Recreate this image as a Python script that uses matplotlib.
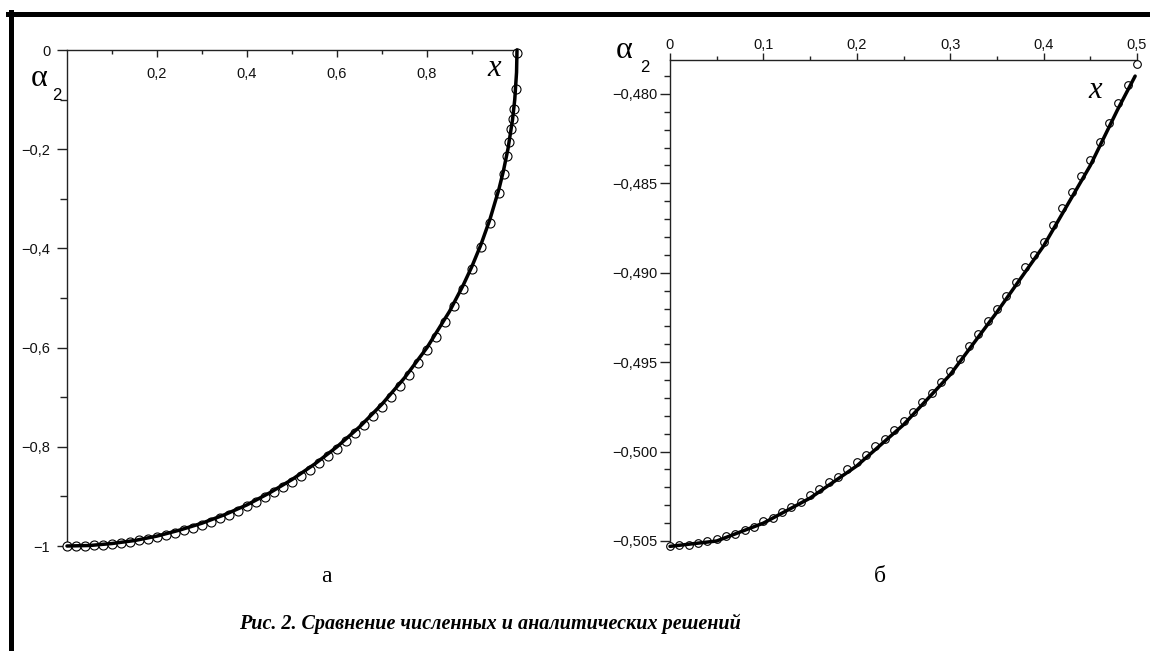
import matplotlib
matplotlib.use("Agg")
import matplotlib.pyplot as plt
from matplotlib.lines import Line2D
from matplotlib.ticker import FixedLocator, FixedFormatter, MultipleLocator

# панель "а": аналитическое решение (линия) и численное (кружки)
xa_line = [0.0, 0.05, 0.10, 0.15, 0.20, 0.25, 0.30, 0.35, 0.40, 0.45, 0.50, 0.55,
           0.60, 0.65, 0.70, 0.75, 0.80, 0.85, 0.88, 0.90, 0.92, 0.94, 0.96, 0.97,
           0.98, 0.99, 0.995, 0.999, 1.0]
ya_line = [-1.000, -0.999, -0.995, -0.989, -0.980, -0.968, -0.954, -0.937, -0.917,
           -0.893, -0.866, -0.835, -0.800, -0.760, -0.714, -0.661, -0.600, -0.527,
           -0.475, -0.436, -0.392, -0.341, -0.280, -0.243, -0.199, -0.141, -0.100,
           -0.045, 0.000]
xa_num = [0.00, 0.02, 0.04, 0.06, 0.08, 0.10, 0.12, 0.14, 0.16, 0.18, 0.20, 0.22,
          0.24, 0.26, 0.28, 0.30, 0.32, 0.34, 0.36, 0.38, 0.40, 0.42, 0.44, 0.46,
          0.48, 0.50, 0.52, 0.54, 0.56, 0.58, 0.60, 0.62, 0.64, 0.66, 0.68, 0.70,
          0.72, 0.74, 0.76, 0.78, 0.80, 0.82, 0.84, 0.86, 0.88, 0.90, 0.92, 0.94,
          0.96, 0.970, 0.977, 0.983, 0.987, 0.990, 0.993, 0.997, 0.999]
ya_num = [-1.000, -1.000, -0.999, -0.998, -0.997, -0.996, -0.994, -0.991, -0.988,
          -0.985, -0.982, -0.978, -0.973, -0.968, -0.963, -0.957, -0.951, -0.944,
          -0.937, -0.929, -0.920, -0.911, -0.902, -0.892, -0.881, -0.870, -0.858,
          -0.846, -0.833, -0.819, -0.804, -0.789, -0.773, -0.756, -0.738, -0.719,
          -0.699, -0.677, -0.655, -0.631, -0.605, -0.578, -0.548, -0.516, -0.481,
          -0.442, -0.398, -0.348, -0.288, -0.250, -0.214, -0.185, -0.160, -0.140,
          -0.118, -0.078, -0.006]
xa_ticks = [0.2, 0.4, 0.6, 0.8]
xa_labels = ["0,2", "0,4", "0,6", "0,8"]
ya_ticks = [0, -0.2, -0.4, -0.6, -0.8, -1.0]
ya_labels = ["0", "\u22120,2", "\u22120,4", "\u22120,6", "\u22120,8", "\u22121"]

# панель "б": увеличенный фрагмент
xb_line = [0.0, 0.05, 0.10, 0.15, 0.20, 0.25, 0.30, 0.35, 0.40, 0.45, 0.479, 0.498]
yb_line = [-0.5053, -0.5050, -0.5040, -0.5026, -0.5008, -0.4985, -0.4957, -0.4922,
           -0.4885, -0.4840, -0.4809, -0.4790]
xb_num = [0.00, 0.01, 0.02, 0.03, 0.04, 0.05, 0.06, 0.07, 0.08, 0.09, 0.10, 0.11,
          0.12, 0.13, 0.14, 0.15, 0.16, 0.17, 0.18, 0.19, 0.20, 0.21, 0.22, 0.23,
          0.24, 0.25, 0.26, 0.27, 0.28, 0.29, 0.30, 0.31, 0.32, 0.33, 0.34, 0.35,
          0.36, 0.37, 0.38, 0.39, 0.40, 0.41, 0.42, 0.43, 0.44, 0.45, 0.46, 0.47,
          0.48, 0.49, 0.50]
yb_num = [-0.5053, -0.5052, -0.5052, -0.5051, -0.5050, -0.5049, -0.5047, -0.5046,
          -0.5044, -0.5042, -0.5039, -0.5037, -0.5034, -0.5031, -0.5028, -0.5024,
          -0.5021, -0.5017, -0.5014, -0.5010, -0.5006, -0.5002, -0.4997, -0.4993,
          -0.4988, -0.4983, -0.4978, -0.4972, -0.4967, -0.4961, -0.4955, -0.4948,
          -0.4941, -0.4934, -0.4927, -0.4920, -0.4913, -0.4905, -0.4897, -0.4890,
          -0.4883, -0.4873, -0.4864, -0.4855, -0.4846, -0.4837, -0.4827, -0.4816,
          -0.4805, -0.4795, -0.4783]
xb_ticks = [0.0, 0.1, 0.2, 0.3, 0.4, 0.5]
xb_labels = ["0", "0,1", "0,2", "0,3", "0,4", "0,5"]
yb_ticks = [-0.480, -0.485, -0.490, -0.495, -0.500, -0.505]
yb_labels = ["\u22120,480", "\u22120,485", "\u22120,490", "\u22120,495",
             "\u22120,500", "\u22120,505"]

caption = "Рис. 2. Сравнение численных и аналитических решений"

W, H = 1150, 651
fig = plt.figure(figsize=(W / 100, H / 100), dpi=100)
fig.patch.set_facecolor("white")


def fx(x):
    return x / W


def fy(y):
    return 1 - y / H


def axes_px(x0, y0, x1, y1):
    return fig.add_axes([fx(x0), fy(y1), (x1 - x0) / W, (y1 - y0) / H])


tick_family = "Liberation Sans"
tick_size = 10.5
axcol = "#222222"


def style_labels(a):
    for lab in a.get_xticklabels() + a.get_yticklabels():
        lab.set_fontfamily(tick_family)
        lab.set_fontsize(tick_size)
        lab.set_color("#111111")


# ----- а -----
ax = axes_px(67, 50, 517, 546)
ax.set_xlim(0, 1)
ax.set_ylim(-1, 0)
ax.patch.set_alpha(0)
for s in ["top", "right"]:
    ax.spines[s].set_visible(False)
ax.spines["bottom"].set_position(("data", 0))
for s in ["left", "bottom"]:
    ax.spines[s].set_color(axcol)
    ax.spines[s].set_linewidth(1.0)
ax.xaxis.set_major_locator(FixedLocator(xa_ticks))
ax.xaxis.set_major_formatter(FixedFormatter(xa_labels))
ax.xaxis.set_minor_locator(FixedLocator([0.1, 0.3, 0.5, 0.7, 0.9]))
ax.yaxis.set_major_locator(FixedLocator(ya_ticks))
ax.yaxis.set_major_formatter(FixedFormatter(ya_labels))
ax.yaxis.set_minor_locator(FixedLocator([-0.1, -0.3, -0.5, -0.7, -0.9]))
ax.tick_params(axis="x", which="major", direction="out", length=5, width=1, pad=7, colors=axcol)
ax.tick_params(axis="x", which="minor", direction="out", length=3, width=1, colors=axcol)
ax.tick_params(axis="y", which="major", direction="out", length=7, width=1, pad=5, colors=axcol)
ax.tick_params(axis="y", which="minor", direction="out", length=5, width=1, colors=axcol)
style_labels(ax)
ax.plot(xa_num, ya_num, linestyle="none", marker="o", markersize=6.5,
        markerfacecolor="white", markeredgecolor="black", markeredgewidth=0.8,
        clip_on=False, zorder=3)
ax.plot(xa_line, ya_line, color="black", linewidth=2.5, solid_capstyle="round",
        clip_on=False, zorder=4)

# ----- б -----
bx = axes_px(670, 60, 1137, 546)
bx.set_xlim(0, 0.5)
bx.set_ylim(-0.50528, -0.47810)
bx.patch.set_alpha(0)
for s in ["bottom", "right"]:
    bx.spines[s].set_visible(False)
for s in ["left", "top"]:
    bx.spines[s].set_color(axcol)
    bx.spines[s].set_linewidth(1.0)
bx.xaxis.set_ticks_position("top")
bx.xaxis.set_major_locator(FixedLocator(xb_ticks))
bx.xaxis.set_major_formatter(FixedFormatter(xb_labels))
bx.xaxis.set_minor_locator(MultipleLocator(0.05))
bx.yaxis.set_major_locator(FixedLocator(yb_ticks))
bx.yaxis.set_major_formatter(FixedFormatter(yb_labels))
bx.yaxis.set_minor_locator(MultipleLocator(0.001))
bx.tick_params(axis="x", which="major", direction="out", length=5, width=1, pad=1, colors=axcol)
bx.tick_params(axis="x", which="minor", direction="out", length=3, width=1, colors=axcol)
bx.tick_params(axis="y", which="major", direction="out", length=7, width=1, pad=2, colors=axcol)
bx.tick_params(axis="y", which="minor", direction="out", length=4, width=1, colors=axcol)
style_labels(bx)
bx.plot(xb_num, yb_num, linestyle="none", marker="o", markersize=5.5,
        markerfacecolor="white", markeredgecolor="black", markeredgewidth=0.8,
        clip_on=False, zorder=3)
bx.plot(xb_line, yb_line, color="black", linewidth=2.5, solid_capstyle="round",
        clip_on=False, zorder=4)

# подписи осей
serif = "Liberation Serif"
fig.text(fx(39), fy(78), "α", family=serif, fontsize=23, ha="center", va="center")
fig.text(fx(57), fy(95), "2", family="Liberation Sans", fontsize=12, ha="center", va="center")
fig.text(fx(494), fy(68), "x", family=serif, style="italic", fontsize=22, ha="center", va="center")
fig.text(fx(624), fy(50), "α", family=serif, fontsize=23, ha="center", va="center")
fig.text(fx(645), fy(68), "2", family="Liberation Sans", fontsize=12, ha="center", va="center")
fig.text(fx(1095), fy(91), "x", family=serif, style="italic", fontsize=22, ha="center", va="center")

fig.text(fx(326), fy(577), "а", family=serif, fontsize=17, ha="center", va="center")
fig.text(fx(880), fy(577), "б", family=serif, fontsize=17, ha="center", va="center")
fig.text(fx(490), fy(624), caption, family=serif, style="italic", weight="bold",
         fontsize=14.5, ha="center", va="center")

# рамка (верх и лево)
fig.add_artist(Line2D([fx(8), fx(1150)], [fy(14), fy(14)], color="black", linewidth=3.6))
fig.add_artist(Line2D([fx(11), fx(11)], [fy(12), fy(651)], color="black", linewidth=3.6))

fig.savefig("out.png", dpi=100, facecolor="white")
